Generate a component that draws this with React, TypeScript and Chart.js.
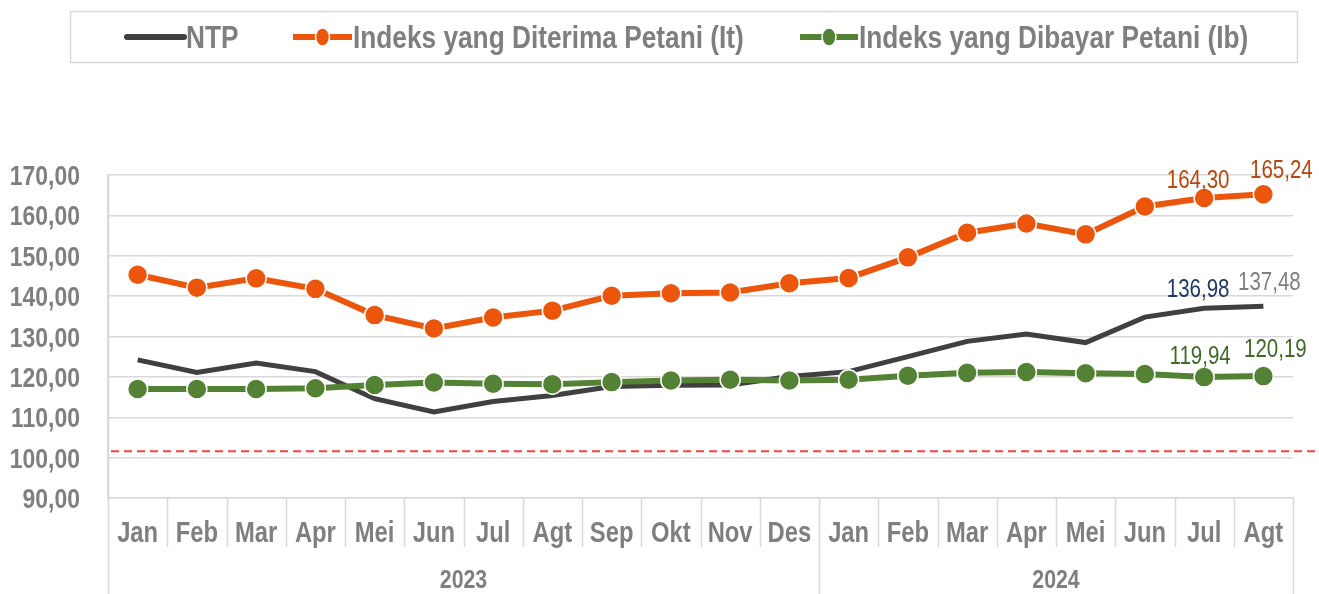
import React, { useEffect, useRef } from "react";
import { Chart, registerables } from "chart.js";

Chart.register(...registerables);

// ---------- data ----------
const MONTHS = ["Jan", "Feb", "Mar", "Apr", "Mei", "Jun", "Jul", "Agt", "Sep", "Okt", "Nov", "Des", "Jan", "Feb", "Mar", "Apr", "Mei", "Jun", "Jul", "Agt"];
const YEARS = ["2023", "2024"];
const YEAR_SPANS = [12, 8];

const NTP = [124.2, 121.1, 123.4, 121.3, 114.6, 111.3, 113.9, 115.4, 117.6, 117.9, 118.0, 120.1, 121.3, 125.0, 128.8, 130.6, 128.5, 134.8, 136.98, 137.48];
const IT = [145.3, 142.1, 144.4, 141.8, 135.3, 132.0, 134.7, 136.4, 140.1, 140.7, 140.9, 143.2, 144.5, 149.6, 155.7, 158.0, 155.3, 162.2, 164.3, 165.24];
const IB = [117.0, 117.0, 117.0, 117.2, 118.0, 118.6, 118.3, 118.2, 118.7, 119.1, 119.3, 119.1, 119.3, 120.3, 121.0, 121.2, 120.9, 120.7, 119.94, 120.19];

const SERIES_NAMES = ["NTP", "Indeks yang Diterima Petani (It)", "Indeks yang Dibayar Petani (Ib)"];
const Y_MIN = 90;
const Y_MAX = 170;
const Y_STEP = 10;
const REF_LINE = 101.6;
const LABELED_INDICES = [18, 19];

// ---------- styles ----------
const NTP_COLOR = "#404040";
const IT_COLOR = "#EB560C";
const IB_COLOR = "#548235";
const TEXT_GRAY = "#7F7F7F";
const GRID = "#D9D9D9";
const FONT = "'Liberation Sans', Arial, sans-serif";
const NARROW_SCALE = 0.82; // Arial Narrow ≈ Arial at 82% width

const fmt = (v: number) => v.toFixed(2).replace(".", ",");

// label colours & offsets per dataset, per labelled index (Jul, Agt)
const LABEL_STYLE: Record<number, { colors: string[]; dx: number[]; dy: number[] }> = {
  0: { colors: ["#1F3864", "#7F7F7F"], dx: [-6, 6], dy: [11, 16] },
  1: { colors: ["#B8470C", "#B8470C"], dx: [-6, 18], dy: [10, 16] },
  2: { colors: ["#3F6A26", "#3F6A26"], dx: [-4, 12], dy: [13, 19] },
};

function narrowText(
  ctx: CanvasRenderingContext2D,
  text: string,
  x: number,
  y: number,
  font: string,
  color: string,
  align: CanvasTextAlign,
  baseline: CanvasTextBaseline = "alphabetic"
) {
  ctx.save();
  ctx.font = font;
  ctx.fillStyle = color;
  ctx.textAlign = align;
  ctx.textBaseline = baseline;
  ctx.translate(x, y);
  ctx.scale(NARROW_SCALE, 1);
  ctx.fillText(text, 0, 0);
  ctx.restore();
}

const overlay = {
  id: "overlay",
  beforeDatasetsDraw(chart: any) {
    const { ctx, chartArea, scales } = chart;
    const y = scales.y.getPixelForValue(REF_LINE);
    ctx.save();
    ctx.strokeStyle = "#FF4040";
    ctx.lineWidth = 2;
    ctx.setLineDash([8, 5]);
    ctx.beginPath();
    ctx.moveTo(chartArea.left + 3, y);
    ctx.lineTo(chart.width, y);
    ctx.stroke();
    ctx.restore();
  },
  afterDraw(chart: any) {
    const { ctx, chartArea, scales } = chart;
    const H = chart.height;
    const left = chartArea.left;
    const right = chartArea.right;
    const bottom = chartArea.bottom;
    const n = MONTHS.length;
    const step = (right - left) / n;

    ctx.save();
    // separators in the category axis
    ctx.strokeStyle = GRID;
    ctx.lineWidth = 1.5;
    const yearBounds = [0];
    YEAR_SPANS.forEach((s) => yearBounds.push(yearBounds[yearBounds.length - 1] + s));
    for (let i = 0; i <= n; i++) {
      const bx = Math.round(left + i * step) + 0.5;
      const isYear = yearBounds.includes(i);
      ctx.beginPath();
      ctx.moveTo(bx, isYear && i === 0 ? chartArea.top : bottom);
      ctx.lineTo(bx, isYear ? H : bottom + 49);
      ctx.stroke();
    }
    ctx.restore();

    // y tick labels
    const yTickFont = `bold 28px ${FONT}`;
    for (let v = Y_MIN; v <= Y_MAX + 1e-9; v += Y_STEP) {
      const py = scales.y.getPixelForValue(v);
      narrowText(ctx, fmt(v), 80, py + 10, yTickFont, TEXT_GRAY, "right");
    }
    // x tick labels
    const xTickFont = `bold 29px ${FONT}`;
    MONTHS.forEach((m, i) => {
      const px = scales.x.getPixelForValue(i);
      narrowText(ctx, m, px, 542, xTickFont, TEXT_GRAY, "center");
    });
    // year labels
    YEARS.forEach((yr, k) => {
      const cx = left + ((yearBounds[k] + yearBounds[k + 1]) / 2) * step;
      narrowText(ctx, yr, cx, 588, `bold 26px ${FONT}`, TEXT_GRAY, "center");
    });

    // data labels
    chart.data.datasets.forEach((ds: any, di: number) => {
      const meta = chart.getDatasetMeta(di);
      const st = LABEL_STYLE[di];
      LABELED_INDICES.forEach((idx, j) => {
        const el = meta.data[idx];
        narrowText(ctx, fmt(ds.data[idx]), el.x + st.dx[j], el.y - st.dy[j], `25px ${FONT}`, st.colors[j], "center");
      });
    });

    // legend
    ctx.save();
    ctx.strokeStyle = GRID;
    ctx.lineWidth = 1.5;
    ctx.strokeRect(70.5, 11.5, 1227, 51);
    const ly = 37;
    const items = [
      { x0: 127, x1: 184, color: NTP_COLOR, marker: false, tx: 186 },
      { x0: 293, x1: 352, color: IT_COLOR, marker: true, tx: 353 },
      { x0: 800, x1: 858, color: IB_COLOR, marker: true, tx: 859 },
    ];
    items.forEach((it, k) => {
      ctx.strokeStyle = it.color;
      ctx.lineWidth = 6;
      ctx.lineCap = it.marker ? "butt" : "round";
      ctx.beginPath();
      ctx.moveTo(it.x0, ly);
      ctx.lineTo(it.x1, ly);
      ctx.stroke();
      if (it.marker) {
        ctx.fillStyle = it.color;
        ctx.strokeStyle = "#fff";
        ctx.lineWidth = 1.5;
        ctx.beginPath();
        ctx.ellipse((it.x0 + it.x1) / 2, ly, 7, 9, 0, 0, Math.PI * 2);
        ctx.fill();
        ctx.stroke();
      }
      narrowText(ctx, SERIES_NAMES[k], it.tx, ly + 11, `bold 32px ${FONT}`, TEXT_GRAY, "left");
    });
    ctx.restore();
  },
};

export default function App() {
  const ref = useRef<HTMLCanvasElement>(null);
  useEffect(() => {
    const canvas = ref.current;
    if (!canvas) return;
    const pointCommon = {
      pointRadius: 10,
      pointHoverRadius: 10,
      pointBorderColor: "#ffffff",
      pointBorderWidth: 1.5,
      borderWidth: 6,
      tension: 0,
    };
    const chart = new Chart(canvas, {
      type: "line",
      data: {
        labels: MONTHS,
        datasets: [
          { label: SERIES_NAMES[0], data: NTP, borderColor: NTP_COLOR, backgroundColor: NTP_COLOR, borderWidth: 5, pointRadius: 0, pointHoverRadius: 0, tension: 0, order: 3 },
          { label: SERIES_NAMES[1], data: IT, borderColor: IT_COLOR, backgroundColor: IT_COLOR, pointBackgroundColor: IT_COLOR, ...pointCommon, order: 2 },
          { label: SERIES_NAMES[2], data: IB, borderColor: IB_COLOR, backgroundColor: IB_COLOR, pointBackgroundColor: IB_COLOR, ...pointCommon, order: 1 },
        ],
      },
      options: {
        responsive: false,
        animation: false,
        events: [],
        layout: { padding: { top: 175, right: 26, left: 0, bottom: 0 } },
        plugins: { legend: { display: false }, tooltip: { enabled: false } },
        scales: {
          x: {
            offset: true,
            grid: { display: false, drawTicks: false },
            border: { display: true, color: GRID, width: 1.5 },
            ticks: { display: false, autoSkip: false },
            afterFit: (s: any) => { s.height = 96; },
          },
          y: {
            min: Y_MIN,
            max: Y_MAX,
            ticks: { display: false, stepSize: Y_STEP },
            grid: { color: GRID, lineWidth: 1.5, drawTicks: false },
            border: { display: true, color: GRID, width: 1.5 },
            afterFit: (s: any) => { s.width = 108; },
          },
        },
      },
      plugins: [overlay],
    } as any);
    return () => chart.destroy();
  }, []);
  return (
    <div style={{ position: "absolute", left: 0, top: 0, width: 1319, height: 594, background: "#fff" }}>
      <canvas ref={ref} width={1319} height={594} style={{ display: "block" }} />
    </div>
  );
}
